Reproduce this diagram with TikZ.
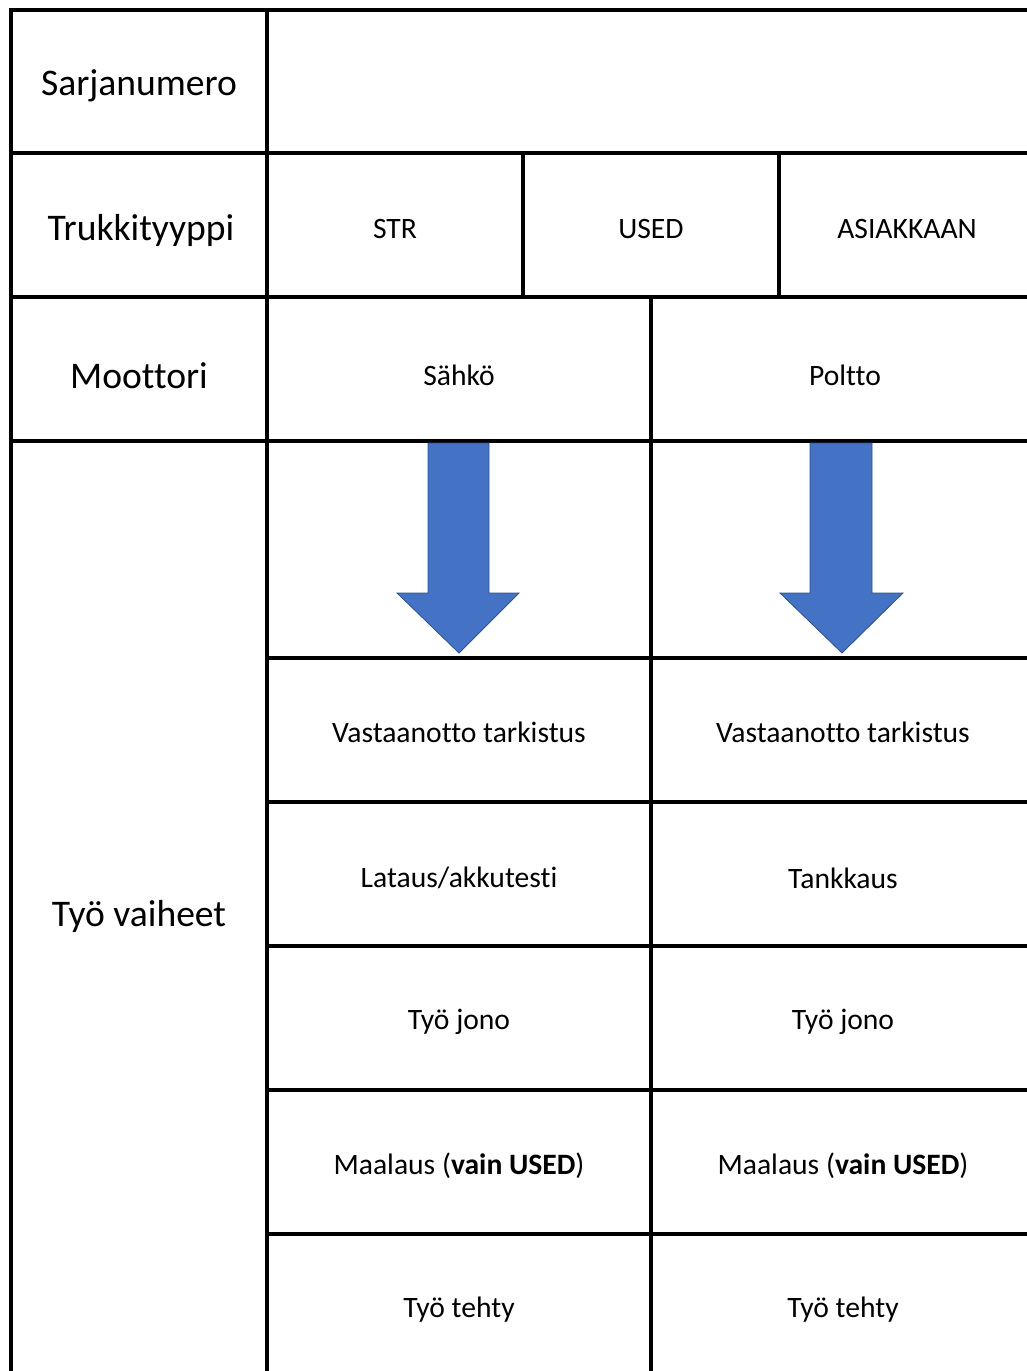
\documentclass[tikz,border=0pt]{standalone}
\usepackage{fontspec}
\setmainfont{Carlito}[Ligatures={NoCommon}]
\definecolor{arrfill}{HTML}{4472C4}
\definecolor{arrline}{HTML}{2F528F}
\begin{document}
\begin{tikzpicture}[x=1pt,y=-1pt,
  grid/.style={line width=3.2pt,black},
  thick grid/.style={line width=3.8pt,black},
  head/.style={font=\fontsize{37.6}{44}\selectfont,anchor=center,inner sep=0pt},
  cell/.style={font=\fontsize{29.6}{36}\selectfont,anchor=center,inner sep=0pt},
  bigarrow/.style={fill=arrfill,draw=arrline,line width=0.8pt,line join=miter}]
\useasboundingbox (0,0) rectangle (1027,1371);
% table lines
\draw[grid] (11,1380) -- (11,10) -- (1040,10);
\draw[grid] (11,153) -- (1040,153);
\draw[grid] (11,297) -- (1040,297);
\draw[grid] (11,441) -- (1040,441);
\foreach \yy in {658,802,946,1090,1234}{\draw[grid] (267,\yy) -- (1040,\yy);}
\draw[thick grid] (267,10) -- (267,1380);
\draw[grid] (523,153) -- (523,297);
\draw[grid] (779,153) -- (779,297);
\draw[grid] (651,297) -- (651,1380);
% arrows
\draw[bigarrow] (428,443) -- (489,443) -- (489,593) -- (519,593) -- (459,653) -- (397,593) -- (428,593) -- cycle;
\draw[bigarrow] (810,443) -- (872,443) -- (872,593) -- (903,593) -- (842,653) -- (780,593) -- (810,593) -- cycle;
% row labels
\node[head] (sarja) at (139,86) {Sarjanumero};
\node[head] (truk) at (141,230) {Trukkityyppi};
\node[head] (moot) at (139,376) {Moottori};
\node[head] (tyo) at (139,916) {Työ vaiheet};
% cells
\node[cell] (str) at (395,229) {STR};
\node[cell] (used) at (651,229) {USED};
\node[cell] (asiak) at (907,229) {ASIAKKAAN};
\node[cell] (sahko) at (459,375) {Sähkö};
\node[cell] (poltto) at (845,375) {Poltto};
\node[cell] (va1) at (459,732) {Vastaanotto tarkistus};
\node[cell] (va2) at (843,732) {Vastaanotto tarkistus};
\node[cell] (lat) at (459,878) {Lataus/akkutesti};
\node[cell] (tank) at (843,878) {Tankkaus};
\node[cell] (jono1) at (459,1022) {Työ jono};
\node[cell] (jono2) at (843,1022) {Työ jono};
\node[cell] (maal1) at (459,1166) {Maalaus (\textbf{vain USED})};
\node[cell] (maal2) at (843,1166) {Maalaus (\textbf{vain USED})};
\node[cell] (teh1) at (459,1310) {Työ tehty};
\node[cell] (teh2) at (843,1310) {Työ tehty};
\end{tikzpicture}
\end{document}
